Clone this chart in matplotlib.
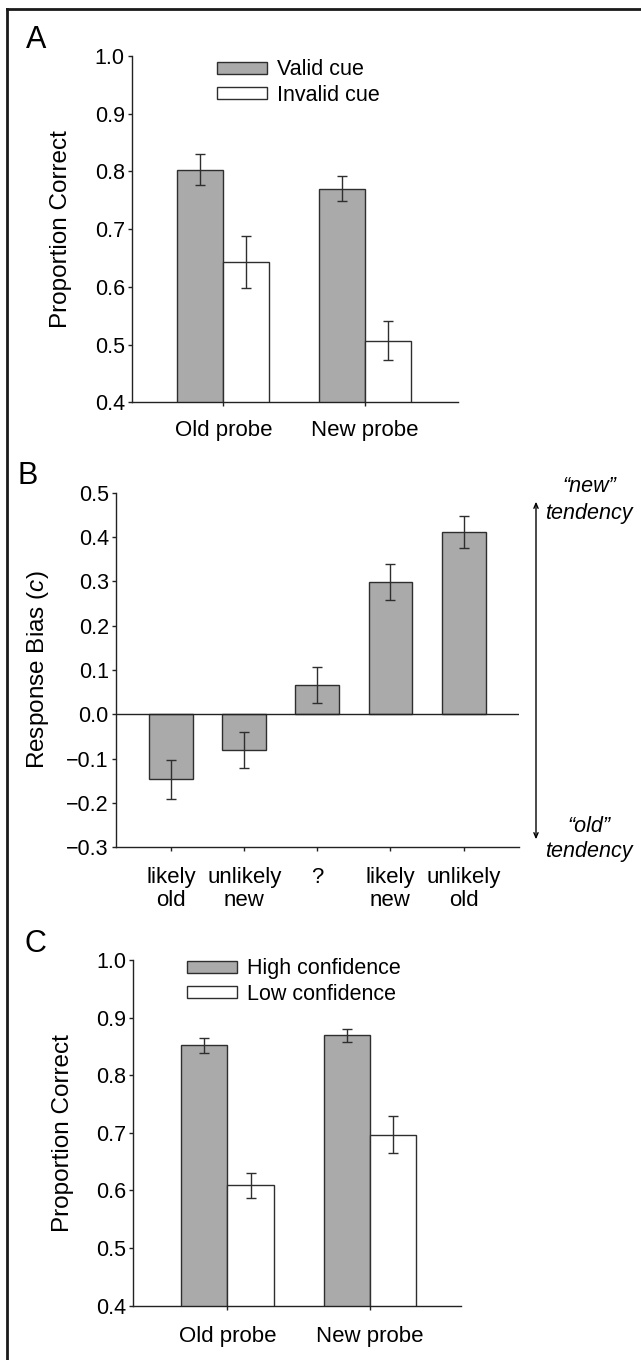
import numpy as np
import matplotlib.pyplot as plt
from matplotlib.lines import Line2D

plt.rcParams['font.family'] = ['Liberation Sans', 'DejaVu Sans']
plt.rcParams['mathtext.fontset'] = 'custom'
plt.rcParams['mathtext.it'] = 'Liberation Sans:italic'
plt.rcParams['mathtext.rm'] = 'Liberation Sans'

# Panel A: proportion correct by cue validity
probe_labels = ['Old probe', 'New probe']
cue_names = ['Valid cue', 'Invalid cue']
valid_mean = [0.803, 0.770]
valid_err = [0.027, 0.022]
invalid_mean = [0.643, 0.507]
invalid_err = [0.045, 0.033]

# Panel B: response bias per cue type
bias_labels = ['likely\nold', 'unlikely\nnew', '?', 'likely\nnew', 'unlikely\nold']
bias_mean = [-0.146, -0.081, 0.066, 0.299, 0.412]
bias_err = [0.044, 0.041, 0.040, 0.040, 0.036]

# Panel C: proportion correct by confidence
conf_names = ['High confidence', 'Low confidence']
high_mean = [0.852, 0.869]
high_err = [0.013, 0.012]
low_mean = [0.609, 0.697]
low_err = [0.022, 0.032]

W, H = 641, 1360
GRAY = '#aaaaaa'
EDGE = '#2e2e2e'
YTICK_FS = 15.5
XTICK_FS = 16
LABEL_FS = 17.5

fig = plt.figure(figsize=(W / 100, H / 100), dpi=100)


def px_rect(left, top, right, bottom):
    """Axes rectangle from pixel edges (origin top-left)."""
    return [left / W, 1 - bottom / H, (right - left) / W, (bottom - top) / H]


def style_axes(ax, xpad):
    for s in ['top', 'right']:
        ax.spines[s].set_visible(False)
    for s in ['left', 'bottom']:
        ax.spines[s].set_linewidth(1.0)
        ax.spines[s].set_color('#222222')
    ax.tick_params(axis='both', direction='out', length=3, width=1, color='#222222')
    ax.tick_params(axis='y', pad=2, labelsize=YTICK_FS)
    ax.tick_params(axis='x', pad=xpad, labelsize=XTICK_FS)


def paired_panel(rect, means1, errs1, means2, errs2, names, xlim, label_x,
                 xpad, legend_xy):
    ax = fig.add_axes(rect)
    x = np.arange(len(probe_labels))
    w = 0.325
    ekw = dict(ecolor=EDGE, elinewidth=1, capsize=3.6, capthick=1)
    ax.bar(x - w / 2, means1, w, yerr=errs1, color=GRAY, edgecolor=EDGE,
           linewidth=1, label=names[0], error_kw=ekw)
    ax.bar(x + w / 2, means2, w, yerr=errs2, color='white', edgecolor=EDGE,
           linewidth=1, label=names[1], error_kw=ekw)
    ax.set_ylim(0.4, 1.0)
    ax.set_xlim(*xlim)
    ax.set_yticks([0.4, 0.5, 0.6, 0.7, 0.8, 0.9, 1.0])
    ax.set_xticks(x)
    ax.set_xticklabels(probe_labels)
    style_axes(ax, xpad)
    ax.set_ylabel('Proportion Correct', fontsize=LABEL_FS)
    ax.yaxis.set_label_coords(label_x, 0.5)
    ax.legend(loc='center left', bbox_to_anchor=(legend_xy[0] / W, 1 - legend_xy[1] / H),
              bbox_transform=fig.transFigure, frameon=False, fontsize=15.5,
              borderpad=0, borderaxespad=0, handlelength=2.3, handleheight=0.46,
              handletextpad=0.5, labelspacing=0.2)
    return ax


# Panel A
rectA = px_rect(131.7, 56, 457.7, 402.3)
axA = paired_panel(rectA, valid_mean, valid_err, invalid_mean, invalid_err,
                   cue_names, (-0.646, 1.654), (72 - 131.7) / 326, 9.5,
                   (217, 82.5))

# Panel B
rectB = px_rect(115.7, 492.7, 519.2, 847.3)
axB = fig.add_axes(rectB)
xb = np.arange(len(bias_labels))
axB.bar(xb, bias_mean, 0.6, yerr=bias_err, color=GRAY, edgecolor=EDGE,
        linewidth=1, error_kw=dict(ecolor=EDGE, elinewidth=1, capsize=3.6, capthick=1))
axB.axhline(0, color='#222222', lw=1)
axB.set_ylim(-0.3, 0.5)
axB.set_xlim(-0.757, 4.76)
axB.set_yticks([-0.3, -0.2, -0.1, 0.0, 0.1, 0.2, 0.3, 0.4, 0.5])
axB.set_xticks(xb)
axB.set_xticklabels(bias_labels, linespacing=1.1)
style_axes(axB, 11.5)
axB.set_ylabel('Response Bias ($\\mathit{c}$)', fontsize=LABEL_FS)
axB.yaxis.set_label_coords((51 - 115.7) / 403.5, 0.5)

# direction arrow with tendency notes
axB.annotate('', xy=(536, H - 501.7), xytext=(536, H - 839.3),
             xycoords='figure pixels', textcoords='figure pixels',
             arrowprops=dict(arrowstyle='<->,head_length=0.35,head_width=0.15',
                             lw=1, color='black', shrinkA=0, shrinkB=0))
for txt, ypx in [('\u201cnew\u201d', 486.7), ('tendency', 513.3),
                 ('\u201cold\u201d', 826.7), ('tendency', 851.7)]:
    fig.text(589 / W, 1 - ypx / H, txt, style='italic', fontsize=15.5,
             ha='center', va='center')

# Panel C
rectC = px_rect(132.9, 960, 461, 1305.7)
axC = paired_panel(rectC, high_mean, high_err, low_mean, low_err,
                   conf_names, (-0.662, 1.638), (74 - 132.9) / 328.1, 11.5,
                   (187, 981.5))

# panel letters
for letter, xpx, ypx in [('A', 26, 48), ('B', 17, 484), ('C', 25, 951.5)]:
    fig.text(xpx / W, 1 - ypx / H, letter, fontsize=22, ha='left', va='baseline')

# frame around the figure (left and top edges)
fig.add_artist(Line2D([7.3 / W, 7.3 / W], [0, 1 - 9 / H], transform=fig.transFigure,
                      color='#1a1a1a', lw=2))
fig.add_artist(Line2D([7.3 / W, 1], [1 - 9 / H, 1 - 9 / H], transform=fig.transFigure,
                      color='#1a1a1a', lw=2))

fig.savefig('out.png', dpi=100)
print('saved out.png')
